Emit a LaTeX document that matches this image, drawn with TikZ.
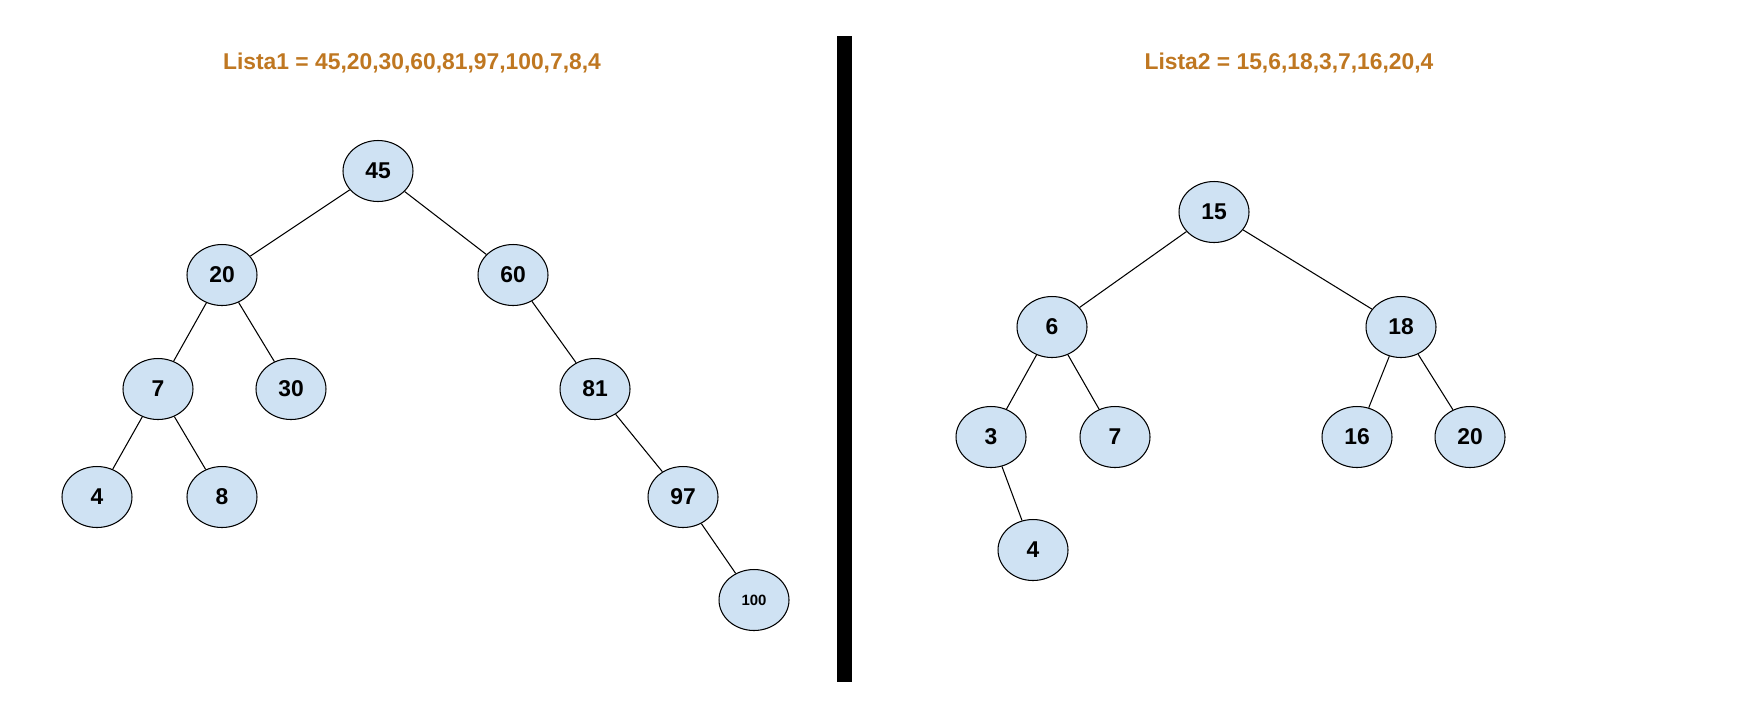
\documentclass[tikz,border=0pt]{standalone}
\usepackage{fontspec}
\setmainfont{Liberation Sans}
\usetikzlibrary{shapes.geometric}

\definecolor{listorange}{RGB}{191,119,33}
\definecolor{nodeblue}{RGB}{207,226,243}

\tikzset{
    treenode/.style={ellipse, draw=black, line width=0.6pt, fill=nodeblue,
        minimum width=1.4cm, minimum height=1.22cm, inner sep=0pt,
        font=\fontsize{13}{15}\selectfont\bfseries},
    smallnode/.style={treenode, font=\fontsize{8.5}{10}\selectfont\bfseries},
    listtitle/.style={text=listorange, font=\fontsize{13}{15}\selectfont\bfseries},
    treeedge/.style={line width=0.6pt}
}

\begin{document}
\begin{tikzpicture}[x=0.02cm, y=-0.02cm]

    % Page frame
	\useasboundingbox (0,0) rectangle (1757,718);

    % Titles
	\node[listtitle] (title1) at (412,63) {Lista1 = 45,20,30,60,81,97,100,7,8,4};
	\node[listtitle] (title2) at (1289,63) {Lista2 = 15,6,18,3,7,16,20,4};

    % Divider
	\fill[black] (837,36) rectangle (852,682);

    % First tree
	\node[treenode] (a45) at (378,171) {45};
	\node[treenode] (a20) at (222,275) {20};
	\node[treenode] (a60) at (513,275) {60};
	\node[treenode] (a7) at (158,389) {7};
	\node[treenode] (a30) at (291,389) {30};
	\node[treenode] (a81) at (595,389) {81};
	\node[treenode] (a4) at (97,497) {4};
	\node[treenode] (a8) at (222,497) {8};
	\node[treenode] (a97) at (683,497) {97};
	\node[smallnode] (a100) at (754,600) {100};

	\draw[treeedge] (a45) -- (a20);
	\draw[treeedge] (a45) -- (a60);
	\draw[treeedge] (a20) -- (a7);
	\draw[treeedge] (a20) -- (a30);
	\draw[treeedge] (a7) -- (a4);
	\draw[treeedge] (a7) -- (a8);
	\draw[treeedge] (a60) -- (a81);
	\draw[treeedge] (a81) -- (a97);
	\draw[treeedge] (a97) -- (a100);

    % Second tree
	\node[treenode] (b15) at (1214,212) {15};
	\node[treenode] (b6) at (1052,327) {6};
	\node[treenode] (b18) at (1401,327) {18};
	\node[treenode] (b3) at (991,437) {3};
	\node[treenode] (b7) at (1115,437) {7};
	\node[treenode] (b16) at (1357,437) {16};
	\node[treenode] (b20) at (1470,437) {20};
	\node[treenode] (b4) at (1033,550) {4};

	\draw[treeedge] (b15) -- (b6);
	\draw[treeedge] (b15) -- (b18);
	\draw[treeedge] (b6) -- (b3);
	\draw[treeedge] (b6) -- (b7);
	\draw[treeedge] (b3) -- (b4);
	\draw[treeedge] (b18) -- (b16);
	\draw[treeedge] (b18) -- (b20);

\end{tikzpicture}
\end{document}
